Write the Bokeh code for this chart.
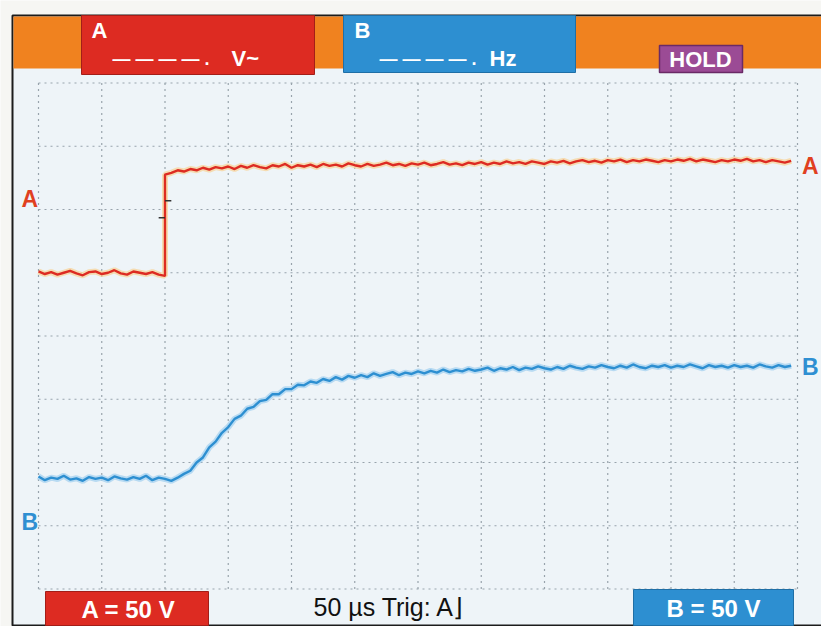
import numpy as np
from bokeh.plotting import figure
from bokeh.models import Range1d, Label
from bokeh.embed import file_html
from bokeh.resources import INLINE

# ---------------- data (in screen divisions) ----------------
grid_x = list(range(13))   # 12 horizontal divisions (50 us / div)
grid_y = list(range(9))    # 8 vertical divisions

sample_step = 0.1
# channel A: before the step (t = 0 .. 2.0 div)
a_pre = [5.02, 4.98, 5.01, 4.97, 5.00, 5.03, 4.99, 4.96, 5.01, 5.02, 4.98,
         5.00, 5.04, 4.99, 4.97, 5.02, 5.00, 4.98, 5.01, 4.97, 4.95]
# channel A: after the step (t = 2.0 .. 11.9 div)
a_post = [6.55, 6.58, 6.62, 6.60, 6.64, 6.62, 6.66, 6.63, 6.67, 6.65,
          6.68, 6.64, 6.69, 6.66, 6.70, 6.67, 6.65, 6.70, 6.68, 6.72,
          6.66, 6.70, 6.68, 6.71, 6.67, 6.72, 6.69, 6.71, 6.68, 6.73,
          6.70, 6.68, 6.72, 6.69, 6.71, 6.74, 6.70, 6.72, 6.69, 6.73,
          6.71, 6.74, 6.70, 6.72, 6.75, 6.71, 6.73, 6.70, 6.74, 6.72,
          6.75, 6.71, 6.74, 6.72, 6.76, 6.73, 6.75, 6.72, 6.76, 6.74,
          6.72, 6.76, 6.74, 6.77, 6.73, 6.76, 6.78, 6.75, 6.77, 6.74,
          6.78, 6.76, 6.79, 6.75, 6.78, 6.76, 6.79, 6.77, 6.75, 6.78,
          6.76, 6.79, 6.77, 6.80, 6.76, 6.79, 6.77, 6.75, 6.78, 6.76,
          6.79, 6.77, 6.80, 6.76, 6.78, 6.75, 6.78, 6.76, 6.74, 6.77]
# channel B (t = 0 .. 11.9 div)
b_vals = [1.78, 1.72, 1.76, 1.74, 1.79, 1.73, 1.75, 1.71, 1.77, 1.74, 1.76,
          1.72, 1.78, 1.75, 1.73, 1.77, 1.74, 1.79, 1.72, 1.76, 1.74, 1.71,
          1.76, 1.82, 1.87, 2.00, 2.08, 2.24, 2.33, 2.47,
          2.56, 2.69, 2.74, 2.85, 2.88, 2.97, 2.99, 3.08, 3.08, 3.16,
          3.16, 3.23, 3.22, 3.28, 3.26, 3.32, 3.29, 3.35, 3.31, 3.37,
          3.34, 3.38, 3.35, 3.41, 3.37, 3.40, 3.43, 3.38, 3.42, 3.40,
          3.44, 3.41, 3.45, 3.42, 3.47, 3.43, 3.46, 3.44, 3.48, 3.45,
          3.47, 3.50, 3.45, 3.49, 3.47, 3.51, 3.46, 3.50, 3.48, 3.52,
          3.49, 3.47, 3.51, 3.48, 3.53, 3.50, 3.48, 3.52, 3.50, 3.54,
          3.51, 3.49, 3.53, 3.50, 3.55, 3.51, 3.49, 3.53, 3.51, 3.54,
          3.50, 3.53, 3.51, 3.55, 3.52, 3.49, 3.54, 3.51, 3.53, 3.50,
          3.54, 3.51, 3.53, 3.50, 3.55, 3.52, 3.50, 3.54, 3.51, 3.53]
# trigger level marks on the A step
trig_t = [2.0, 2.0]
trig_y = [6.14, 5.87]

a_t = list(np.round(np.arange(len(a_pre)) * sample_step, 2)) + \
      list(np.round(2.0 + np.arange(len(a_post)) * sample_step, 2))
a_y = a_pre + a_post
b_t = list(np.round(np.arange(len(b_vals)) * sample_step, 2))

# ---------------- layout helpers (page pixels -> divisions) ----------------
PX = 63.25
def X(px):
    return (px - 38.0) / PX
def Y(py):
    return (588.5 - py) / PX

W, H = 821, 626
p = figure(width=W, height=H, output_backend="svg", toolbar_location=None,
           x_range=Range1d(X(0), X(W)), y_range=Range1d(Y(H), Y(0)),
           x_axis_location=None, y_axis_location=None, min_border=0)
p.grid.visible = False
p.outline_line_color = None
p.background_fill_color = "#f6f6f3"
p.border_fill_color = "#f6f6f3"

RED = "#dd2b22"
BLUE = "#2d8fd1"
ORANGE = "#f0821f"
PURPLE = "#9b4b95"
FONT = "Liberation Sans"

# screen panel
p.quad(left=[X(12)], right=[X(860)], top=[Y(15)], bottom=[Y(625)],
       fill_color="#eef4f8", line_color="#1c1c1c", line_width=2)

# dotted graticule
p.segment(x0=grid_x, y0=[grid_y[0]] * len(grid_x), x1=grid_x, y1=[grid_y[-1]] * len(grid_x),
          line_color="#98a3ac", line_width=1.2, line_dash="2 4")
p.segment(x0=[grid_x[0]] * len(grid_y), y0=grid_y, x1=[grid_x[-1]] * len(grid_y), y1=grid_y,
          line_color="#98a3ac", line_width=1.2, line_dash="2 4")

# traces
p.line(a_t, a_y, line_color="#f6d6a0", line_width=6, line_alpha=0.8)
p.line(a_t, a_y, line_color=RED, line_width=2.4)
p.line(b_t, b_vals, line_color="#a9d3f0", line_width=6, line_alpha=0.8)
p.line(b_t, b_vals, line_color=BLUE, line_width=2.4)

# trigger marks
p.segment(x0=[trig_t[0], trig_t[1] - 0.1], y0=trig_y, x1=[trig_t[0] + 0.1, trig_t[1]], y1=trig_y,
          line_color="#333333", line_width=1.5)

# top band and boxes
p.quad(left=[X(13)], right=[X(860)], top=[Y(16)], bottom=[Y(68)],
       fill_color=ORANGE, line_color=None)
p.quad(left=[X(81)], right=[X(314)], top=[Y(15)], bottom=[Y(74)],
       fill_color=RED, line_color="#a31e18", line_width=1)
p.quad(left=[X(343)], right=[X(575)], top=[Y(15)], bottom=[Y(72)],
       fill_color=BLUE, line_color="#1f6fa6", line_width=1)
p.quad(left=[X(659)], right=[X(742)], top=[Y(45)], bottom=[Y(72)],
       fill_color=PURPLE, line_color="#6a2a66", line_width=1.5)
# bottom boxes
p.quad(left=[X(45)], right=[X(208)], top=[Y(591)], bottom=[Y(625)],
       fill_color=RED, line_color="#a31e18", line_width=1)
p.quad(left=[X(633)], right=[X(793)], top=[Y(589)], bottom=[Y(625)],
       fill_color=BLUE, line_color="#1f6fa6", line_width=1)

def lab(px, py, text, color, size, style="bold", align="left", baseline="middle"):
    p.add_layout(Label(x=X(px), y=Y(py), text=text, text_color=color,
                       text_font=FONT, text_font_size=size, text_font_style=style,
                       text_align=align, text_baseline=baseline))

# top texts
lab(91, 30, "A", "white", "22px")
lab(112, 58, "\u2014 \u2014 \u2014 \u2014 .", "white", "18px")
lab(231, 58, "V~", "white", "22px")
lab(354, 30, "B", "white", "22px")
lab(379, 58, "\u2014 \u2014 \u2014 \u2014 .", "white", "18px")
lab(489, 58, "Hz", "white", "22px")
lab(700, 59, "HOLD", "white", "22px", align="center")

# channel markers
lab(21, 198, "A", "#e0401f", "23px")
lab(21, 521, "B", "#2f8fd2", "23px")
lab(818, 165, "A", "#e0401f", "23px", align="right")
lab(818, 366, "B", "#2f8fd2", "23px", align="right")

# bottom texts
lab(128, 609, "A = 50 V", "white", "24px", align="center")
lab(713, 608, "B = 50 V", "white", "24px", align="center")
lab(313, 606, "50 \u00b5s Trig: A\u230b", "#111111", "25px", style="normal")

open("out.html", "w").write(file_html(p, INLINE))
